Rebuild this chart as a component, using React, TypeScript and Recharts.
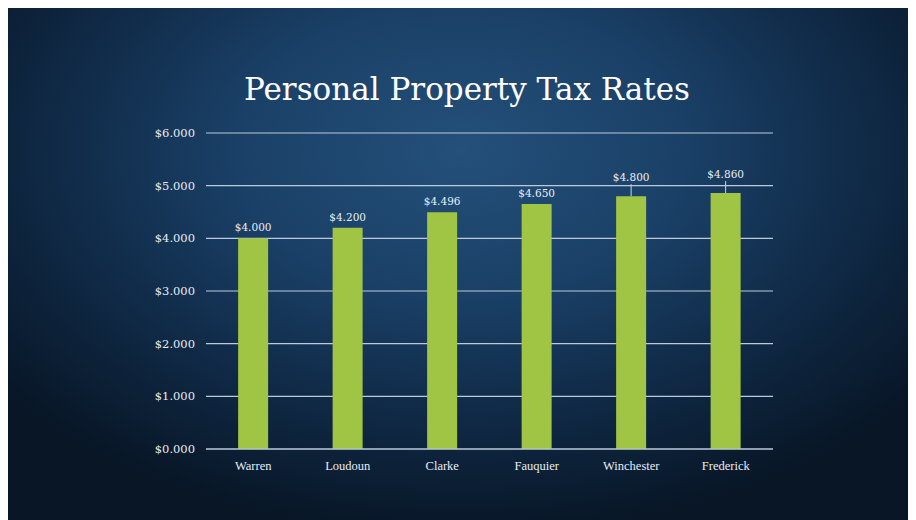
import React from "react";
import { BarChart, Bar, XAxis, YAxis, CartesianGrid, LabelList } from "recharts";

const categories = ["Warren", "Loudoun", "Clarke", "Fauquier", "Winchester", "Frederick"];
const rates = [4.0, 4.2, 4.496, 4.65, 4.8, 4.86];
const yTicks = [0, 1, 2, 3, 4, 5, 6];

const data = categories.map((c, i) => ({ name: c, rate: rates[i] }));

const fmt = (v: number) => "$" + v.toFixed(3);

const ValueLabel = (props: any) => {
  const { x, y, width, value } = props;
  const cx = x + width / 2;
  const lifted = value > 4.7;
  if (lifted) {
    return (
      <g>
        <line x1={cx} x2={cx} y1={y} y2={y - 12} stroke="#c9d4e0" strokeWidth={1} />
        <text x={cx} y={y - 15} textAnchor="middle" fill="#e8edf3" fontSize={10.5} fontFamily="DejaVu Serif">
          {fmt(value)}
        </text>
      </g>
    );
  }
  return (
    <text x={cx} y={y - 7} textAnchor="middle" fill="#e8edf3" fontSize={10.5} fontFamily="DejaVu Serif">
      {fmt(value)}
    </text>
  );
};

export default function App() {
  return (
    <div style={{ position: "relative", width: 916, height: 520, margin: "-8px 0 0 -8px", background: "#ffffff", overflow: "hidden" }}>
      <div
        style={{
          position: "absolute",
          left: 6,
          top: 7,
          right: 0,
          bottom: 0,
          background:
            "radial-gradient(ellipse 65% 75% at 50% 28%, #245079 0%, #1a4067 38%, #102a47 68%, #081626 100%)",
        }}
      />
      <div
        style={{
          position: "absolute",
          left: 9,
          top: 71,
          width: 916,
          textAlign: "center",
          color: "#ffffff",
          fontFamily: "DejaVu Serif",
          fontSize: 31,
        }}
      >
        Personal Property Tax Rates
      </div>
      <div style={{ position: "absolute", left: 0, top: 0 }}>
        <BarChart width={916} height={520} data={data} margin={{ top: 133, right: 143, bottom: 41, left: 0 }} barCategoryGap="34%">
          <CartesianGrid horizontal={true} vertical={false} stroke="#bccadb" strokeWidth={1.2} />
          <XAxis
            dataKey="name"
            axisLine={{ stroke: "#bccadb" }}
            tickLine={false}
            tickMargin={6}
            tick={{ fill: "#e8edf3", fontSize: 12.5, fontFamily: "Liberation Serif" }}
          />
          <YAxis
            width={206}
            domain={[0, 6]}
            ticks={yTicks}
            axisLine={false}
            tickLine={false}
            tickSize={6}
            tickMargin={5}
            tickFormatter={fmt}
            tick={{ fill: "#e8edf3", fontSize: 11.5, fontFamily: "DejaVu Serif" }}
          />
          <Bar dataKey="rate" fill="#a0c544" isAnimationActive={false}>
            <LabelList dataKey="rate" content={<ValueLabel />} />
          </Bar>
        </BarChart>
      </div>
    </div>
  );
}
